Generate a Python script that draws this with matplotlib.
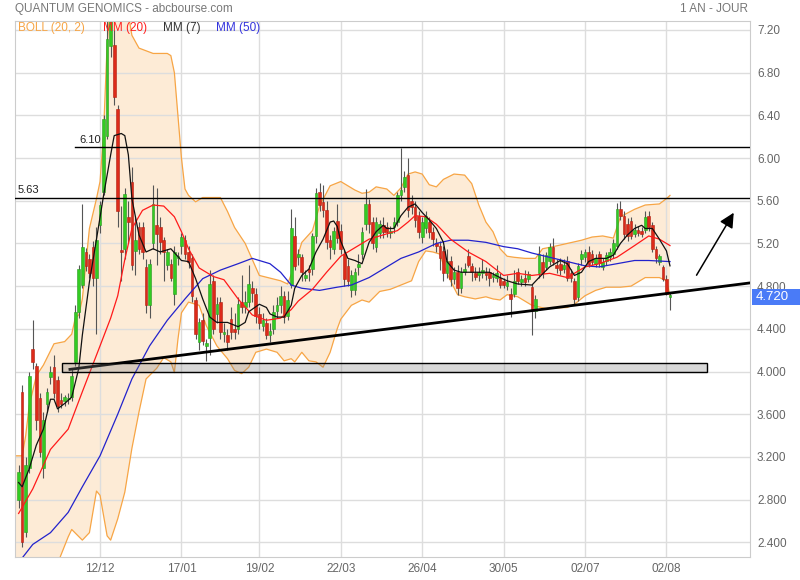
import numpy as np
import matplotlib.pyplot as plt
from matplotlib.patches import Rectangle

plt.rcParams['font.family'] = ['Liberation Sans', 'DejaVu Sans']

# séances (index 0 = première bougie)
opens = [2.80, 3.81, 2.50, 3.10, 4.21, 4.05, 3.75, 3.10, 3.70, 3.95,
         4.04, 3.92, 3.73, 3.72, 3.74, 3.76, 4.09, 4.56, 4.81, 5.12,
         5.05, 5.17, 4.88, 5.37, 5.68, 6.21, 7.05, 7.06, 6.46, 5.14,
         5.15, 5.45, 5.78, 5.13, 5.35, 5.35, 4.98, 4.62, 5.20, 5.37,
         5.35, 5.23, 5.00, 5.01, 4.73, 5.06, 5.18, 5.23, 5.12, 5.06,
         4.67, 4.28, 4.48, 4.24, 4.31, 4.85, 4.54, 4.65, 4.35, 4.34,
         4.49, 4.40, 4.40, 4.65, 4.60, 4.65, 4.78, 4.73, 4.54, 4.43,
         4.45, 4.34, 4.40, 4.57, 4.62, 4.71, 4.52, 4.81, 5.27, 5.07,
         5.07, 4.88, 4.96, 4.96, 5.27, 5.68, 5.59, 5.51, 5.23, 5.15,
         5.41, 5.32, 5.10, 4.99, 4.76, 4.76, 4.98, 5.10, 5.38, 5.57,
         5.40, 5.17, 5.30, 5.37, 5.35, 5.30, 5.35, 5.40, 5.65, 5.73,
         5.84, 5.60, 5.54, 5.46, 5.26, 5.34, 5.40, 5.31, 5.20, 5.18,
         5.13, 4.92, 5.04, 4.87, 4.93, 4.78, 4.93, 5.08, 4.99, 4.92,
         4.90, 4.92, 4.93, 4.93, 4.89, 4.88, 4.88, 4.85, 4.80, 4.73,
         4.73, 4.93, 4.84, 4.88, 4.87, 4.79, 4.57, 4.92, 5.03, 4.98,
         5.04, 5.17, 5.00, 5.01, 4.96, 5.04, 4.92, 4.85, 4.70, 5.05,
         5.07, 5.12, 5.10, 5.01, 5.10, 4.98, 5.04, 5.07, 5.10, 5.18,
         5.52, 5.46, 5.38, 5.41, 5.29, 5.33, 5.32, 5.33, 5.46, 5.37,
         5.15, 5.03, 4.98, 4.87, 4.70]
highs = [3.12, 3.87, 3.20, 4.00, 4.48, 4.08, 3.80, 3.62, 3.85, 4.05,
         4.15, 3.96, 3.80, 3.78, 3.80, 4.02, 4.62, 5.00, 5.57, 5.16,
         5.10, 5.22, 5.35, 5.60, 6.40, 7.30, 7.50, 7.20, 6.50, 5.55,
         5.72, 5.60, 5.92, 5.45, 5.40, 5.40, 5.05, 5.05, 5.75, 5.72,
         5.45, 5.26, 5.15, 5.05, 5.18, 5.12, 5.30, 5.28, 5.18, 5.10,
         4.70, 4.50, 4.55, 4.30, 4.95, 4.90, 4.70, 4.70, 4.45, 4.40,
         4.60, 4.55, 4.70, 4.90, 4.75, 5.00, 4.85, 4.78, 4.60, 4.55,
         4.50, 4.45, 4.62, 4.70, 4.80, 4.75, 4.75, 5.52, 5.45, 5.15,
         5.10, 4.95, 5.00, 5.30, 5.72, 5.77, 5.75, 5.60, 5.28, 5.35,
         5.57, 5.38, 5.15, 5.05, 4.95, 4.97, 5.10, 5.35, 5.71, 5.62,
         5.45, 5.45, 5.42, 5.45, 5.40, 5.36, 5.45, 5.68, 6.09, 5.88,
         6.00, 5.65, 5.60, 5.50, 5.45, 5.50, 5.45, 5.35, 5.25, 5.22,
         5.18, 5.15, 5.08, 4.98, 5.00, 4.98, 5.02, 5.15, 5.02, 4.98,
         4.98, 5.05, 4.98, 4.97, 4.93, 5.00, 4.92, 4.88, 4.90, 4.78,
         4.95, 4.97, 4.90, 4.95, 4.94, 4.82, 4.72, 5.18, 5.10, 5.12,
         5.20, 5.25, 5.05, 5.06, 5.05, 5.08, 4.96, 4.88, 5.02, 5.14,
         5.15, 5.18, 5.14, 5.10, 5.13, 5.06, 5.12, 5.16, 5.24, 5.58,
         5.60, 5.50, 5.44, 5.45, 5.38, 5.36, 5.35, 5.50, 5.50, 5.40,
         5.18, 5.10, 5.00, 4.90, 4.74]
lows = [2.72, 2.36, 2.45, 3.05, 4.02, 3.45, 3.20, 3.00, 3.62, 3.88,
        3.75, 3.62, 3.66, 3.68, 3.70, 3.72, 4.05, 4.50, 4.78, 4.94,
        4.88, 4.80, 4.35, 5.30, 5.65, 6.18, 6.95, 6.50, 5.35, 4.85,
        5.05, 5.20, 4.95, 4.90, 5.10, 5.05, 4.55, 4.50, 5.15, 5.00,
        5.10, 4.85, 4.95, 4.85, 4.62, 5.00, 5.10, 5.05, 4.97, 4.65,
        4.30, 4.20, 4.25, 4.10, 4.15, 4.35, 4.45, 4.30, 4.28, 4.20,
        4.30, 4.30, 4.35, 4.55, 4.55, 4.60, 4.65, 4.45, 4.40, 4.38,
        4.30, 4.28, 4.35, 4.50, 4.55, 4.45, 4.48, 4.78, 4.95, 5.00,
        4.85, 4.85, 4.85, 4.90, 5.20, 5.50, 5.45, 5.15, 5.05, 5.10,
        5.20, 5.10, 4.80, 4.80, 4.70, 4.72, 4.90, 5.05, 5.33, 5.30,
        5.15, 5.12, 5.25, 5.25, 5.26, 5.25, 5.30, 5.36, 5.60, 5.68,
        5.45, 5.48, 5.35, 5.25, 5.20, 5.30, 5.25, 5.18, 5.12, 4.95,
        4.85, 4.88, 4.80, 4.82, 4.72, 4.74, 4.90, 4.98, 4.85, 4.86,
        4.85, 4.88, 4.86, 4.80, 4.84, 4.84, 4.78, 4.78, 4.76, 4.51,
        4.70, 4.82, 4.80, 4.80, 4.84, 4.34, 4.50, 4.88, 4.88, 4.95,
        5.00, 5.00, 4.92, 4.90, 4.92, 4.85, 4.84, 4.62, 4.66, 5.00,
        5.03, 4.98, 5.00, 4.98, 4.98, 4.95, 5.00, 5.04, 5.06, 5.15,
        5.42, 5.24, 5.22, 5.24, 5.26, 5.27, 5.26, 5.30, 5.32, 5.12,
        5.02, 5.00, 4.85, 4.72, 4.58]
closes = [3.06, 2.40, 3.12, 3.96, 4.09, 3.55, 3.25, 3.55, 3.81, 4.00,
          3.80, 3.68, 3.70, 3.76, 3.75, 3.96, 4.56, 4.96, 5.17, 4.99,
          4.92, 4.88, 5.23, 5.56, 6.37, 7.12, 7.35, 6.57, 5.50, 5.12,
          5.66, 5.40, 5.00, 5.23, 5.15, 5.12, 4.62, 5.01, 5.57, 5.29,
          5.21, 5.12, 5.12, 4.88, 5.12, 5.08, 5.26, 5.10, 5.03, 4.71,
          4.35, 4.46, 4.29, 4.27, 4.82, 4.40, 4.63, 4.37, 4.37, 4.28,
          4.37, 4.37, 4.63, 4.60, 4.65, 4.82, 4.74, 4.52, 4.45, 4.48,
          4.34, 4.38, 4.56, 4.62, 4.71, 4.51, 4.67, 5.34, 4.99, 5.10,
          4.93, 4.90, 4.93, 5.27, 5.67, 5.56, 5.51, 5.21, 5.17, 5.32,
          5.25, 5.15, 4.87, 4.85, 4.90, 4.93, 5.01, 5.31, 5.57, 5.38,
          5.20, 5.40, 5.38, 5.31, 5.31, 5.31, 5.40, 5.65, 5.70, 5.82,
          5.51, 5.54, 5.42, 5.31, 5.40, 5.46, 5.31, 5.24, 5.18, 5.06,
          4.92, 5.04, 4.87, 4.93, 4.78, 4.93, 4.96, 5.00, 4.93, 4.89,
          4.93, 4.95, 4.90, 4.88, 4.90, 4.92, 4.81, 4.81, 4.84, 4.68,
          4.85, 4.85, 4.87, 4.84, 4.91, 4.57, 4.68, 5.10, 4.92, 5.09,
          5.17, 5.03, 4.97, 4.95, 5.00, 4.88, 4.88, 4.68, 4.99, 5.10,
          5.12, 5.01, 5.03, 5.06, 5.02, 5.03, 5.09, 5.12, 5.20, 5.52,
          5.46, 5.29, 5.27, 5.27, 5.33, 5.30, 5.29, 5.45, 5.35, 5.15,
          5.06, 5.08, 4.87, 4.73, 4.72]

# moyennes mobiles (index de séance, valeur)
mm7_x = [0, 1, 3, 5, 7, 9, 10, 11, 13, 15, 17, 18, 20, 22, 24, 26, 27, 29, 30, 31,
         32, 34, 36, 38, 40, 43, 46, 48, 50, 52, 54, 56, 59, 62, 64, 65, 68, 70, 71, 73,
         75, 77, 78, 80, 82, 84, 86, 88, 89, 90, 91, 93, 95, 97, 99, 101, 103, 104, 106, 108,
         110, 112, 114, 116, 118, 120, 121, 123, 125, 130, 133, 136, 138, 141, 145, 147, 150, 153, 155, 157,
         159, 161, 163, 166, 168, 170, 172, 174, 176, 177, 179, 181, 183, 184]
mm7_y = [2.96, 2.92, 3.09, 3.31, 3.46, 3.74, 3.74, 3.65, 3.70, 3.76, 4.03, 4.34, 4.84, 5.24, 5.65, 6.03, 6.21, 6.23, 6.21, 6.03,
         5.62, 5.28, 5.12, 5.15, 5.12, 5.15, 5.04, 5.03, 4.87, 4.68, 4.51, 4.46, 4.46, 4.42, 4.46, 4.56, 4.63, 4.60, 4.54, 4.51,
         4.51, 4.62, 4.78, 4.90, 4.96, 5.12, 5.24, 5.40, 5.41, 5.36, 5.22, 5.06, 5.04, 5.01, 5.21, 5.31, 5.37, 5.34, 5.34, 5.46,
         5.54, 5.57, 5.49, 5.42, 5.34, 5.21, 5.03, 4.95, 4.93, 4.93, 4.93, 4.88, 4.85, 4.82, 4.81, 4.88, 4.98, 5.04, 5.01, 4.90,
         4.93, 5.03, 5.06, 5.06, 5.09, 5.20, 5.28, 5.34, 5.37, 5.34, 5.34, 5.24, 5.13, 4.99]

mm20_x = [0, 4, 9, 14, 18, 23, 26, 28, 30, 32, 35, 38, 41, 44, 46, 48, 51, 55, 58, 62,
          66, 70, 74, 77, 79, 83, 87, 91, 95, 99, 103, 107, 110, 112, 115, 118, 122, 127, 132, 137,
          141, 145, 150, 155, 160, 164, 169, 174, 178, 181, 184]
mm20_y = [2.67, 2.90, 3.27, 3.46, 3.81, 4.24, 4.50, 4.71, 5.05, 5.34, 5.51, 5.56, 5.55, 5.45, 5.31, 5.15, 4.97, 4.89, 4.86, 4.68,
          4.53, 4.48, 4.50, 4.58, 4.66, 4.77, 4.93, 5.08, 5.16, 5.24, 5.28, 5.32, 5.40, 5.46, 5.45, 5.38, 5.24, 5.12, 5.03, 4.90,
          4.92, 4.90, 4.92, 4.88, 4.98, 5.01, 5.07, 5.18, 5.27, 5.24, 5.18]

mm50_x = [0, 4, 9, 14, 18, 23, 28, 32, 37, 42, 47, 52, 57, 62, 66, 71, 74, 77, 80, 85,
          90, 94, 99, 103, 108, 113, 118, 122, 127, 132, 137, 141, 145, 150, 155, 160, 164, 169, 174, 178, 184]
mm50_y = [2.21, 2.38, 2.49, 2.68, 2.92, 3.21, 3.60, 3.93, 4.24, 4.48, 4.68, 4.87, 4.95, 5.01, 5.06, 5.01, 4.93, 4.81, 4.78, 4.76,
          4.79, 4.81, 4.88, 4.96, 5.06, 5.12, 5.20, 5.23, 5.23, 5.21, 5.17, 5.15, 5.11, 5.07, 5.03, 4.99, 4.98, 5.01, 5.04, 5.04, 5.03]

boll_up_x = [-1, 1, 2, 3, 5, 7, 10, 13, 15, 16, 17, 18, 20, 22, 23, 24, 25, 26, 28, 30,
             31, 32, 34, 38, 42, 43, 44, 45, 46, 47, 48, 50, 52, 57, 59, 61, 64, 66, 68, 74,
             76, 78, 80, 83, 85, 88, 91, 95, 97, 99, 101, 104, 106, 108, 110, 112, 114, 116, 118, 120,
             123, 126, 128, 130, 132, 134, 136, 138, 140, 143, 146, 148, 151, 155, 159, 162, 165, 168, 170, 174,
             177, 181, 183, 184]
boll_up_y = [3.21, 3.21, 3.40, 3.68, 3.96, 4.06, 4.26, 4.28, 4.35, 4.50, 4.53, 4.68, 5.34, 5.62, 5.78, 6.24, 7.06, 7.50, 7.80, 7.60,
             7.35, 7.15, 7.03, 6.98, 6.98, 6.96, 6.80, 6.40, 6.00, 5.71, 5.65, 5.59, 5.63, 5.63, 5.50, 5.35, 5.20, 5.05, 4.90, 4.85,
             4.82, 5.00, 5.21, 5.32, 5.55, 5.74, 5.78, 5.70, 5.67, 5.68, 5.73, 5.71, 5.65, 5.72, 5.85, 5.87, 5.85, 5.75, 5.73, 5.80,
             5.85, 5.84, 5.76, 5.56, 5.40, 5.31, 5.15, 5.08, 5.07, 5.06, 5.06, 5.15, 5.17, 5.20, 5.23, 5.26, 5.27, 5.25, 5.45, 5.52,
             5.56, 5.57, 5.62, 5.65]
boll_lo_x = [-1, 11, 14, 15, 18, 20, 22, 23, 25, 26, 28, 30, 32, 34, 36, 39, 41, 43, 44, 45,
             46, 48, 51, 53, 56, 59, 61, 63, 65, 67, 70, 73, 75, 77, 78, 80, 82, 84, 86, 88,
             90, 91, 94, 97, 99, 102, 105, 108, 111, 113, 115, 117, 119, 120, 122, 124, 126, 129, 132, 134,
             136, 138, 141, 145, 149, 155, 157, 160, 163, 166, 170, 173, 175, 177, 181, 183, 184]
boll_lo_y = [2.20, 2.20, 2.45, 2.52, 2.42, 2.49, 2.88, 2.84, 2.46, 2.42, 2.62, 2.87, 3.28, 3.62, 3.93, 4.03, 4.13, 4.09, 3.99, 4.30,
             4.55, 4.65, 4.62, 4.43, 4.24, 4.12, 4.01, 3.98, 4.04, 4.18, 4.21, 4.18, 4.10, 4.12, 4.09, 4.18, 4.10, 4.09, 4.04, 4.18,
             4.40, 4.49, 4.62, 4.67, 4.65, 4.75, 4.77, 4.81, 4.85, 5.03, 5.13, 5.12, 5.10, 5.00, 4.85, 4.72, 4.70, 4.68, 4.70, 4.68,
             4.67, 4.72, 4.70, 4.62, 4.59, 4.60, 4.63, 4.71, 4.76, 4.79, 4.79, 4.80, 4.84, 4.88, 4.88, 4.85, 4.71]

tick_pos = [23, 46, 68, 91, 114, 137, 160, 183]
tick_labels = ['12/12', '17/01', '19/02', '22/03', '26/04', '30/05', '02/07', '02/08']
y_ticks = [2.4, 2.8, 3.2, 3.6, 4.0, 4.4, 4.8, 5.2, 5.6, 6.0, 6.4, 6.8, 7.2]
y_tick_labels = ['2.400', '2.800', '3.200', '3.600', '4.000', '4.400', '4.800',
                 '5.20', '5.60', '6.00', '6.40', '6.80', '7.20']

# tracés d'analyse
levels = [(6.10, 15.9), (5.63, -1.0)]  # (niveau, début)
trend = ([14.5, 206.6], [4.02, 4.83])
zone = (12.2, 194.5, 3.997, 4.075)  # x0, x1, bas, haut
arrow_from, arrow_to = (191.1, 4.88), (202.4, 5.51)
last_price = 4.72

fig = plt.figure(figsize=(8, 5.8), dpi=100)
ax = fig.add_axes([15 / 800, 1 - 557 / 580, 735 / 800, 536 / 580])
ax.set_xlim(-1.02, 206.6)
ax.set_ylim(2.262, 7.284)

# bandes de Bollinger
poly_x = np.concatenate([boll_up_x, boll_lo_x[::-1]])
poly_y = np.concatenate([boll_up_y, boll_lo_y[::-1]])
ax.fill(poly_x, poly_y, color='#fdebd6', lw=0, zorder=0.2)
ax.plot(boll_up_x, boll_up_y, color='#f7a545', lw=0.9, zorder=1)
ax.plot(boll_lo_x, boll_lo_y, color='#f7a545', lw=0.9, zorder=1)

# bougies
idx = np.arange(len(closes))
o = np.array(opens)
c = np.array(closes)
up = c >= o
ax.vlines(idx, lows, highs, color='#555555', lw=0.8, zorder=2)
body = np.maximum(np.abs(c - o), 0.012)
ax.bar(idx[up], body[up], bottom=o[up], width=0.75, color='#33cc22',
       edgecolor='#2a9a22', lw=0.4, zorder=2.5)
ax.bar(idx[~up], body[~up], bottom=c[~up], width=0.75, color='#dd2a1a',
       edgecolor='#b02010', lw=0.4, zorder=2.5)

# moyennes mobiles
ax.plot(mm50_x, mm50_y, color='#2222cc', lw=0.9, zorder=3)
ax.plot(mm20_x, mm20_y, color='#ff1a1a', lw=0.9, zorder=3)
ax.plot(mm7_x, mm7_y, color='#111111', lw=0.9, zorder=3.2)

# niveaux, oblique, zone et flèche
for lev, x0 in levels:
    ax.plot([x0, 206.6], [lev, lev], color='black', lw=1, zorder=4)
ax.text(17.3, 6.12, '6.10', fontsize=8, color='#222222', va='bottom', zorder=5)
ax.text(-0.2, 5.65, '5.63', fontsize=8, color='#222222', va='bottom', zorder=5)
ax.plot(trend[0], trend[1], color='black', lw=2, zorder=4)
ax.add_patch(Rectangle((zone[0], zone[2]), zone[1] - zone[0], zone[3] - zone[2],
                       facecolor=(0.5, 0.5, 0.5, 0.3), edgecolor='black', lw=1, zorder=4))
ax.annotate('', xy=arrow_to, xytext=arrow_from,
            arrowprops=dict(arrowstyle='-|>', color='black', lw=1.1, mutation_scale=22),
            zorder=5)

# axes
ax.set_xticks(tick_pos)
ax.set_xticklabels(tick_labels)
ax.set_yticks(y_ticks)
ax.set_yticklabels(y_tick_labels)
ax.yaxis.tick_right()
ax.tick_params(length=0, labelsize=8.5, colors='#666666')
ax.tick_params(axis='y', pad=5)
ax.tick_params(axis='x', pad=4)
ax.grid(color='#dddddd', lw=1)
ax.set_axisbelow(True)
for s in ax.spines.values():
    s.set_color('#cccccc')

# dernier cours
fig.patches.append(Rectangle((752 / 800, 1 - 305 / 580), 48 / 800, 16 / 580,
                             transform=fig.transFigure, facecolor='#4a7bf7', edgecolor='none'))
fig.text(756 / 800, 1 - 297 / 580, f'{last_price:.3f}', color='white', fontsize=9.5,
         va='center', ha='left')

# en-têtes et légende
fig.text(15 / 800, 1 - 9 / 580, 'QUANTUM GENOMICS - abcbourse.com', color='#777777',
         fontsize=8.5, va='center')
fig.text(748 / 800, 1 - 9 / 580, '1 AN - JOUR', color='#777777', fontsize=8.5,
         va='center', ha='right')
legend = [('BOLL (20, 2)', '#f7a545', 18), ('MM (20)', '#ff2020', 103),
          ('MM (7)', '#333333', 163), ('MM (50)', '#3333dd', 216)]
for txt, col, px in legend:
    fig.text(px / 800, 1 - 28 / 580, txt, color=col, fontsize=8.5, va='center')

fig.savefig('out.png', dpi=100)
